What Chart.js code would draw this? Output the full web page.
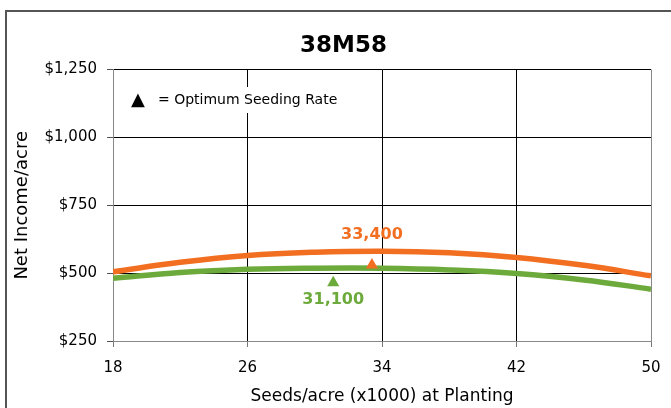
<!DOCTYPE html>
<html>
<head>
<meta charset="utf-8">
<title>38M58</title>
<script src="https://cdn.jsdelivr.net/npm/chart.js@4.4.1/dist/chart.umd.min.js"></script>
<style>
  html, body { margin: 0; padding: 0; background: #fff; }
  #wrap { width: 671px; height: 408px; }
</style>
</head>
<body>
<div id="wrap"><canvas id="chart" width="671" height="408"></canvas></div>
<script>
// ---- data ----
const seedRates = [18, 22, 26, 30, 34, 38, 42, 46, 50];          // x1000 seeds/acre
const incomeOrange = [505, 540, 565, 577, 581, 575, 558, 529, 490];
const incomeGreen  = [481, 502, 514, 518, 518, 512, 499, 475, 441];
const optimumRates = [33.4, 31.1];      // orange, green
const optimumMarks = [530, 465];        // where the triangles sit
const xTicks = [18, 26, 34, 42, 50];
const yTicks = [250, 500, 750, 1000, 1250];

const ORANGE = '#F26F21';
const GREEN = '#6DAA3C';
const FONT = 'DejaVu Sans';

// frame, legend note and optimum labels
const decor = {
    id: 'decor',
    beforeDraw(chart) {
        const ctx = chart.ctx;
        ctx.save();
        ctx.strokeStyle = '#555';
        ctx.lineWidth = 2;
        ctx.beginPath();
        ctx.moveTo(6, 408);
        ctx.lineTo(6, 11);
        ctx.lineTo(671, 11);
        ctx.stroke();
        ctx.restore();
    },
    beforeDatasetsDraw(chart) {
        const ctx = chart.ctx;
        ctx.save();
        ctx.fillStyle = '#fff';
        ctx.fillRect(125, 87, 238, 26);
        ctx.fillStyle = '#000';
        ctx.textBaseline = 'middle';
        ctx.font = '18px "' + FONT + '"';
        ctx.fillText('\u25B2', 131, 100);
        ctx.font = '14px "' + FONT + '"';
        ctx.fillText('= Optimum Seeding Rate', 158, 100);
        ctx.restore();
    },
    afterDatasetsDraw(chart) {
        const ctx = chart.ctx;
        const xs = chart.scales.x, ys = chart.scales.y;
        const colors = [ORANGE, GREEN];
        const offsets = [-30, 17];
        ctx.save();
        ctx.font = 'bold 16px "' + FONT + '"';
        ctx.textAlign = 'center';
        ctx.textBaseline = 'middle';
        optimumRates.forEach((r, i) => {
            const px = xs.getPixelForValue(r);
            const py = ys.getPixelForValue(optimumMarks[i]) + offsets[i];
            ctx.fillStyle = colors[i];
            ctx.fillText(Math.round(r * 1000).toLocaleString('en-US'), px, py);
        });
        ctx.restore();
    }
};

const ctx = document.getElementById('chart').getContext('2d');

new Chart(ctx, {
    type: 'line',
    data: {
        datasets: [
            {
                type: 'scatter',
                data: [{ x: optimumRates[0], y: optimumMarks[0] }],
                pointStyle: 'triangle',
                pointRadius: 7,
                backgroundColor: ORANGE,
                borderWidth: 0,
                order: 0
            },
            {
                type: 'scatter',
                data: [{ x: optimumRates[1], y: optimumMarks[1] }],
                pointStyle: 'triangle',
                pointRadius: 7,
                backgroundColor: GREEN,
                borderWidth: 0,
                order: 0
            },
            {
                data: seedRates.map((x, i) => ({ x: x, y: incomeOrange[i] })),
                borderColor: ORANGE,
                borderWidth: 5.5,
                pointRadius: 0,
                tension: 0.4,
                order: 1
            },
            {
                data: seedRates.map((x, i) => ({ x: x, y: incomeGreen[i] })),
                borderColor: GREEN,
                borderWidth: 5.5,
                pointRadius: 0,
                tension: 0.4,
                order: 2
            }
        ]
    },
    options: {
        responsive: false,
        animation: false,
        devicePixelRatio: 1,
        layout: { padding: { left: 16, top: 10, right: 0, bottom: 0 } },
        plugins: {
            legend: { display: false },
            tooltip: { enabled: false },
            title: {
                display: true,
                text: '38M58',
                color: '#000',
                font: { family: FONT, size: 23, weight: 'bold' },
                padding: { top: 22, bottom: 10 }
            }
        },
        scales: {
            x: {
                type: 'linear',
                min: 18,
                max: 50,
                afterBuildTicks: s => { s.ticks = xTicks.map(v => ({ value: v })); },
                afterFit: s => {
                    s.height = 67;
                    s.paddingLeft = 0;
                    s.paddingRight = 20;   // room right of the plot
                },
                grid: {
                    color: c => (c.tick && c.tick.value === 50) ? '#888' : '#000',
                    lineWidth: 1,
                    tickLength: 6,
                    tickColor: '#777'
                },
                border: { color: '#888', width: 1 },
                ticks: {
                    color: '#000',
                    padding: 12,
                    font: { family: FONT, size: 15 }
                },
                title: {
                    display: true,
                    text: 'Seeds/acre (x1000) at Planting',
                    color: '#000',
                    font: { family: FONT, size: 17 },
                    padding: { top: 0, bottom: 1 }
                }
            },
            y: {
                type: 'linear',
                min: 250,
                max: 1250,
                afterBuildTicks: s => { s.ticks = yTicks.map(v => ({ value: v })); },
                afterFit: s => { s.width = 97; },
                grid: {
                    color: '#000',
                    lineWidth: 1,
                    tickLength: 6,
                    tickColor: '#555'
                },
                border: { color: '#888', width: 1 },
                ticks: {
                    color: '#000',
                    padding: 10,
                    font: { family: FONT, size: 15 },
                    callback: v => '$' + v.toLocaleString('en-US')
                },
                title: {
                    display: true,
                    text: 'Net Income/acre',
                    color: '#000',
                    font: { family: FONT, size: 18 },
                    padding: { top: -4, bottom: 0 }
                }
            }
        }
    },
    plugins: [decor]
});
</script>
</body>
</html>
